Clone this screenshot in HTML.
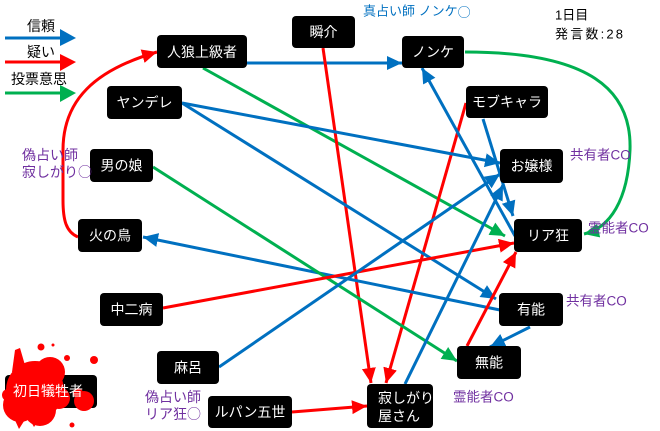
<!DOCTYPE html>
<html><head><meta charset="utf-8"><style>
html,body{margin:0;padding:0;background:#fff;}
svg{display:block;}
text{font-family:"Liberation Sans","Noto Sans CJK JP",sans-serif;}
.n{fill:#000;}
.t{fill:#fff;font-size:14px;text-anchor:middle;dominant-baseline:central;}
.p{fill:#7030a0;font-size:13.5px;dominant-baseline:central;}
.k{fill:#000;font-size:14px;dominant-baseline:central;}
.c{font-family:"Noto Sans CJK JP",sans-serif;}
</style></head><body>
<svg width="660" height="431" viewBox="0 0 660 431" xmlns="http://www.w3.org/2000/svg">
<defs>
<marker id="mb" markerUnits="userSpaceOnUse" markerWidth="17" markerHeight="15" refX="15" refY="7" orient="auto"><path d="M0,0 L15,7 L0,14 z" fill="#0070c0"/></marker>
<marker id="mr" markerUnits="userSpaceOnUse" markerWidth="17" markerHeight="15" refX="15" refY="7" orient="auto"><path d="M0,0 L15,7 L0,14 z" fill="#ff0000"/></marker>
<marker id="mg" markerUnits="userSpaceOnUse" markerWidth="17" markerHeight="15" refX="15" refY="7" orient="auto"><path d="M0,0 L15,7 L0,14 z" fill="#00b050"/></marker>
</defs>

<!-- legend -->
<text class="k" x="27" y="26">信頼</text>
<line x1="5" y1="38" x2="62" y2="38" stroke="#0070c0" stroke-width="3"/>
<polygon points="60,29 76,38 60,46" fill="#0070c0"/>
<text class="k" x="27" y="52">疑い</text>
<line x1="5" y1="62" x2="62" y2="62" stroke="#ff0000" stroke-width="3"/>
<polygon points="60,54 76,62 60,71" fill="#ff0000"/>
<text class="k" x="11" y="79">投票意思</text>
<line x1="5" y1="93" x2="62" y2="93" stroke="#00b050" stroke-width="3"/>
<polygon points="60,85 76,93 60,102" fill="#00b050"/>

<!-- edges -->
<g fill="none" stroke-width="3">
<path d="M78,237 C66,232 63,220 63,200 L63,150 C63,100 95,70 157,52" stroke="#ff0000" marker-end="url(#mr)"/>
<line x1="247" y1="63" x2="402" y2="63" stroke="#0070c0" marker-end="url(#mb)"/>
<line x1="203" y1="68" x2="505" y2="236" stroke="#00b050" marker-end="url(#mg)"/>
<line x1="323" y1="48" x2="371" y2="383" stroke="#ff0000" marker-end="url(#mr)"/>
<line x1="466" y1="103" x2="386" y2="383" stroke="#ff0000" marker-end="url(#mr)"/>
<path d="M465,52 C590,52 632,90 630,150 C628,200 610,228 584,234" stroke="#00b050" marker-end="url(#mg)"/>
<line x1="483" y1="119" x2="513" y2="216" stroke="#0070c0" marker-end="url(#mb)"/>
<line x1="515" y1="236" x2="422" y2="68" stroke="#0070c0" marker-end="url(#mb)"/>
<line x1="182" y1="103" x2="500" y2="163" stroke="#0070c0" marker-end="url(#mb)"/>
<line x1="182" y1="103" x2="496" y2="299" stroke="#0070c0" marker-end="url(#mb)"/>
<line x1="500" y1="310" x2="143" y2="237" stroke="#0070c0" marker-end="url(#mb)"/>
<line x1="153" y1="167" x2="457" y2="361" stroke="#00b050" marker-end="url(#mg)"/>
<line x1="163" y1="308" x2="514" y2="243" stroke="#ff0000" marker-end="url(#mr)"/>
<line x1="467" y1="346" x2="516" y2="252" stroke="#ff0000" marker-end="url(#mr)"/>
<line x1="530" y1="327" x2="490" y2="347" stroke="#0070c0" marker-end="url(#mb)"/>
<line x1="219" y1="367" x2="500" y2="174" stroke="#0070c0" marker-end="url(#mb)"/>
<line x1="405" y1="384" x2="503" y2="185" stroke="#0070c0" marker-end="url(#mb)"/>
<line x1="292" y1="412" x2="367" y2="406" stroke="#ff0000" marker-end="url(#mr)"/>
</g>

<!-- nodes -->
<rect class="n" x="157" y="35" width="90" height="33" rx="4"/><text class="t" x="202" y="52">人狼上級者</text>
<rect class="n" x="292" y="16" width="63" height="32" rx="4"/><text class="t" x="323.5" y="32">瞬介</text>
<rect class="n" x="402" y="36" width="62" height="32" rx="4"/><text class="t" x="433" y="52">ノンケ</text>
<rect class="n" x="466" y="86" width="82" height="32" rx="4"/><text class="t" x="507" y="102">モブキャラ</text>
<rect class="n" x="107" y="86" width="75" height="33" rx="4"/><text class="t" x="144.5" y="102.5">ヤンデレ</text>
<rect class="n" x="90" y="149" width="63" height="33" rx="4"/><text class="t" x="121.5" y="165.5">男の娘</text>
<rect class="n" x="78" y="219" width="64" height="33" rx="4"/><text class="t" x="110" y="235.5">火の鳥</text>
<rect class="n" x="500" y="149" width="63" height="34" rx="4"/><text class="t" x="531.5" y="166">お嬢様</text>
<rect class="n" x="514" y="219" width="68" height="33" rx="4"/><text class="t" x="548" y="235.5">リア狂</text>
<rect class="n" x="100" y="293" width="63" height="33" rx="4"/><text class="t" x="131.5" y="309.5">中二病</text>
<rect class="n" x="157" y="351" width="62" height="33" rx="4"/><text class="t" x="188" y="367.5">麻呂</text>
<rect class="n" x="499" y="293" width="64" height="33" rx="4"/><text class="t" x="531" y="309.5">有能</text>
<rect class="n" x="457" y="346" width="64" height="33" rx="4"/><text class="t" x="489" y="362.5">無能</text>
<rect class="n" x="208" y="396" width="84" height="32" rx="4"/><text class="t" x="250" y="412">ルパン五世</text>
<rect class="n" x="367" y="384" width="66" height="44" rx="4"/>
<text class="t" x="378" y="398" style="text-anchor:start">寂しがり</text>
<text class="t" x="378" y="416" style="text-anchor:start">屋さん</text>

<!-- victim -->
<rect class="n" x="5" y="375" width="92" height="33" rx="4"/>
<g fill="#ff0000">
<circle cx="35" cy="390" r="29"/>
<circle cx="50" cy="372" r="15"/>
<circle cx="20" cy="405" r="17"/>
<circle cx="40" cy="410" r="16"/>
<circle cx="59" cy="398" r="11"/>
<circle cx="8" cy="395" r="6"/>
<polygon points="15,350 20,348 27,372 12,372"/>
<polygon points="14,418 19,429 26,418"/>
<polygon points="30,420 34,427 40,418"/>
<circle cx="84" cy="401" r="10"/>
<circle cx="78" cy="393" r="5"/>
<circle cx="41" cy="347" r="3.5"/>
<circle cx="53" cy="345" r="1.5"/>
<circle cx="67" cy="358" r="3"/>
<circle cx="94" cy="360" r="4"/>
<circle cx="72" cy="425" r="2.5"/>
</g>
<text class="t" x="48" y="391">初日犠牲者</text>

<!-- annotations -->
<text x="363" y="11" style="fill:#0070c0;font-size:13px;dominant-baseline:central">真占い師 ノンケ<tspan class="c">○</tspan></text>
<text x="555" y="15" style="fill:#000;font-size:13px;dominant-baseline:central">1日目</text>
<text x="555" y="34" style="fill:#000;font-size:13px;dominant-baseline:central" textLength="68">発言数:28</text>

<text class="p" x="22" y="155" style="font-size:14px">偽占い師</text>
<text class="p" x="22" y="172" style="font-size:14px">寂しがり<tspan class="c">○</tspan></text>
<text class="p" x="570" y="155">共有者CO</text>
<text class="p" x="588" y="228">霊能者CO</text>
<text class="p" x="566" y="301">共有者CO</text>
<text class="p" x="453" y="397">霊能者CO</text>
<text class="p" x="145" y="397" style="font-size:14px">偽占い師</text>
<text class="p" x="145" y="414" style="font-size:14px">リア狂<tspan class="c">○</tspan></text>
</svg>
</body></html>
